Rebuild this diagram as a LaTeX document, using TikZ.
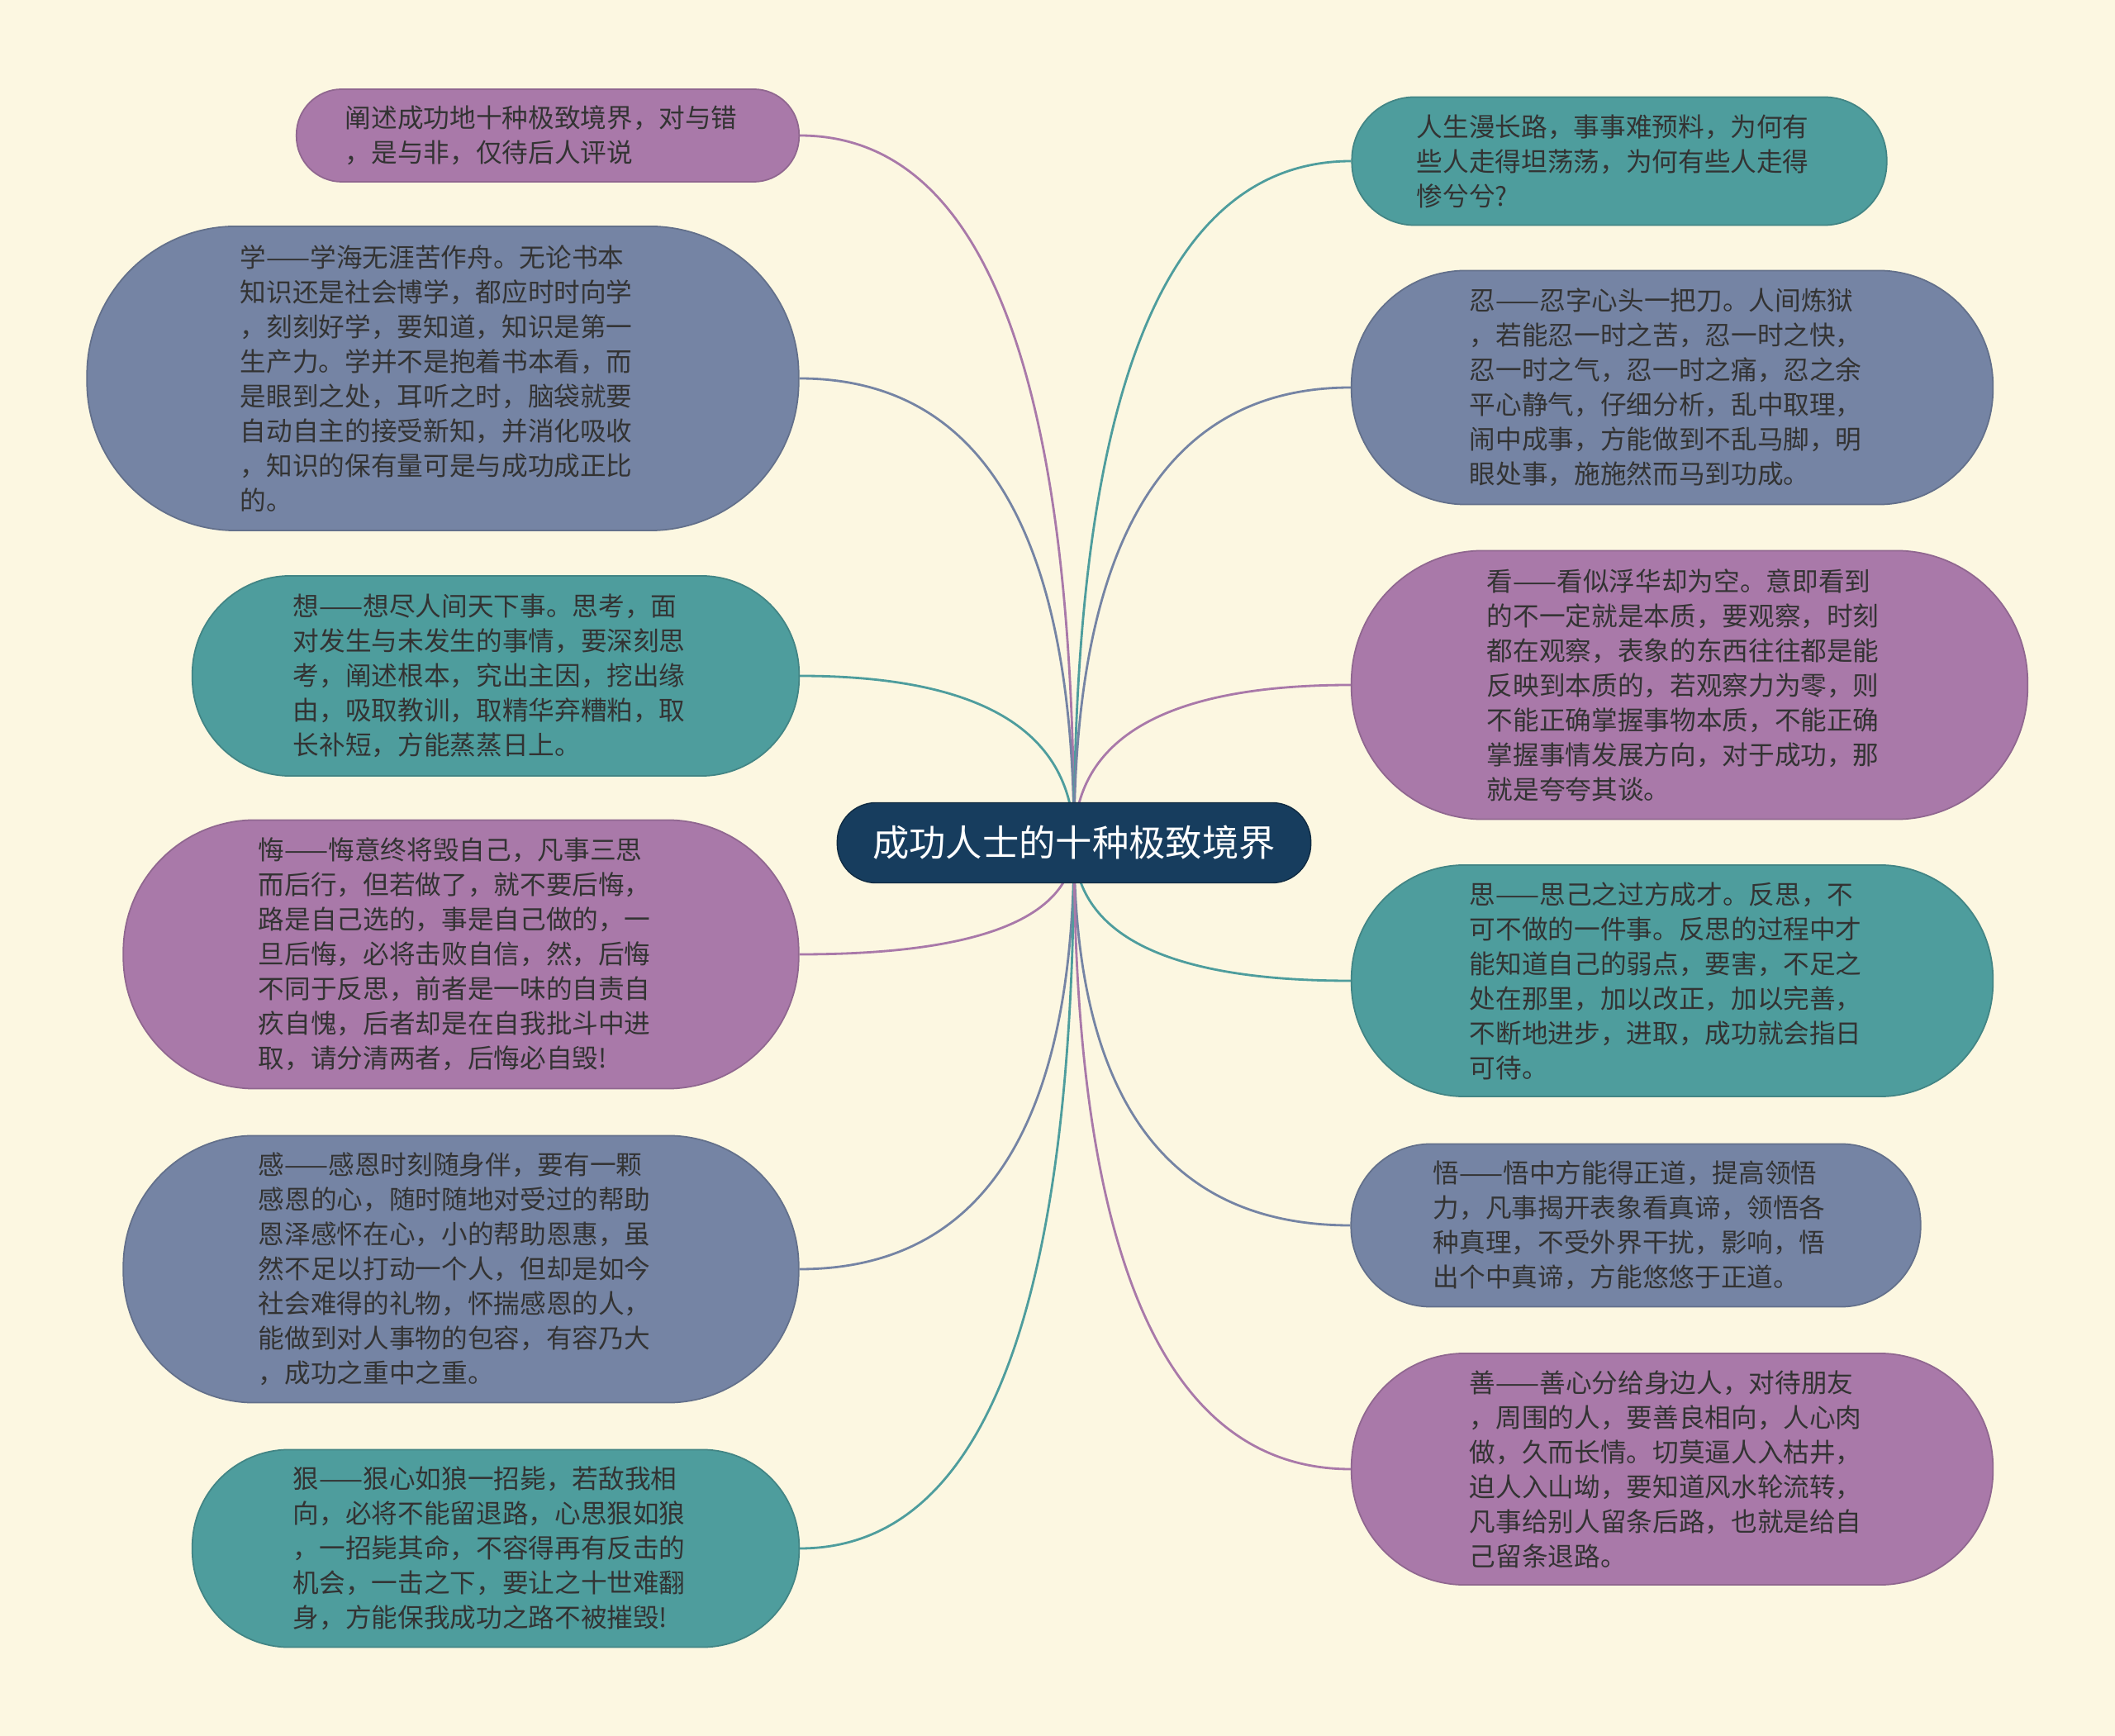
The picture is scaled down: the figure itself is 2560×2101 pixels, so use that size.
\documentclass[tikz,border=0pt]{standalone}
\usepackage{fontspec}
\setmainfont{Noto Sans CJK SC}
\usetikzlibrary{calc}
\pgfdeclarelayer{paper}
\pgfdeclarelayer{links}
\pgfsetlayers{paper,links,main}

\definecolor{paperbg}{HTML}{FCF7E1}
\definecolor{rootblue}{HTML}{173D5E}
\definecolor{leafpurple}{HTML}{A979A9}
\definecolor{leafslate}{HTML}{7584A4}
\definecolor{leafteal}{HTML}{4E9D9D}
\definecolor{textgray}{HTML}{333333}

\tikzset{
  root/.style={rectangle, rounded corners=0.47cm, fill=rootblue, draw=rootblue!70!black,
    text=white, minimum width=5.73cm, minimum height=0.97cm,
    font=\fontsize{12.6}{16}\selectfont},
  leaf/.style n args={3}{rectangle, rounded corners=#2*0.49, minimum width=#1,
    minimum height=#2, text width=4.9cm, align=left, inner sep=0pt,
    fill=#3, draw=#3!85!black, line width=0.5pt, text=textgray,
    font=\fontsize{9}{11.95}\selectfont},
  link/.style={line width=0.8pt},
}

\begin{document}
\begin{tikzpicture}[x=0.01cm, y=-0.01cm]

\begin{pgfonlayer}{paper}
\fill[paperbg] (0,0) rectangle (2560,2101);
\end{pgfonlayer}
\useasboundingbox (0,0) rectangle (2560,2101);

\node[root] (root) at (1300,1020) {成功人士的十种极致境界};

% left side
\node[leaf={6.08cm}{1.12cm}{leafpurple}] (n1) at (663,164) {阐述成功地十种极致境界，对与错\\，是与非，仅待后人评说};
\node[leaf={8.61cm}{3.68cm}{leafslate}] (n2) at (536,458) {学——学海无涯苦作舟。无论书本\\知识还是社会博学，都应时时向学\\，刻刻好学，要知道，知识是第一\\生产力。学并不是抱着书本看，而\\是眼到之处，耳听之时，脑袋就要\\自动自主的接受新知，并消化吸收\\，知识的保有量可是与成功成正比\\的。};
\node[leaf={7.34cm}{2.42cm}{leafteal}] (n3) at (600,818) {想——想尽人间天下事。思考，面\\对发生与未发生的事情，要深刻思\\考，阐述根本，究出主因，挖出缘\\由，吸取教训，取精华弃糟粕，取\\长补短，方能蒸蒸日上。};
\node[leaf={8.17cm}{3.25cm}{leafpurple}] (n4) at (558,1155) {悔——悔意终将毁自己，凡事三思\\而后行，但若做了，就不要后悔，\\路是自己选的，事是自己做的，一\\旦后悔，必将击败自信，然，后悔\\不同于反思，前者是一味的自责自\\疚自愧，后者却是在自我批斗中进\\取，请分清两者，后悔必自毁!};
\node[leaf={8.17cm}{3.23cm}{leafslate}] (n5) at (558,1536) {感——感恩时刻随身伴，要有一颗\\感恩的心，随时随地对受过的帮助\\恩泽感怀在心，小的帮助恩惠，虽\\然不足以打动一个人，但却是如今\\社会难得的礼物，怀揣感恩的人，\\能做到对人事物的包容，有容乃大\\，成功之重中之重。};
\node[leaf={7.34cm}{2.39cm}{leafteal}] (n6) at (600,1874) {狠——狠心如狼一招毙，若敌我相\\向，必将不能留退路，心思狠如狼\\，一招毙其命，不容得再有反击的\\机会，一击之下，要让之十世难翻\\身，方能保我成功之路不被摧毁!};

% right side
\node[leaf={6.47cm}{1.55cm}{leafteal}] (n7) at (1960,195) {人生漫长路，事事难预料，为何有\\些人走得坦荡荡，为何有些人走得\\惨兮兮?};
\node[leaf={7.76cm}{2.83cm}{leafslate}] (n8) at (2024,469) {忍——忍字心头一把刀。人间炼狱\\，若能忍一时之苦，忍一时之快，\\忍一时之气，忍一时之痛，忍之余\\平心静气，仔细分析，乱中取理，\\闹中成事，方能做到不乱马脚，明\\眼处事，施施然而马到功成。};
\node[leaf={8.18cm}{3.25cm}{leafpurple}] (n9) at (2045,829) {看——看似浮华却为空。意即看到\\的不一定就是本质，要观察，时刻\\都在观察，表象的东西往往都是能\\反映到本质的，若观察力为零，则\\不能正确掌握事物本质，不能正确\\掌握事情发展方向，对于成功，那\\就是夸夸其谈。};
\node[leaf={7.76cm}{2.80cm}{leafteal}] (n10) at (2024,1187) {思——思己之过方成才。反思，不\\可不做的一件事。反思的过程中才\\能知道自己的弱点，要害，不足之\\处在那里，加以改正，加以完善，\\不断地进步，进取，成功就会指日\\可待。};
\node[leaf={6.89cm}{1.97cm}{leafslate}] (n11) at (1980,1483) {悟——悟中方能得正道，提高领悟\\力，凡事揭开表象看真谛，领悟各\\种真理，不受外界干扰，影响，悟\\出个中真谛，方能悠悠于正道。};
\node[leaf={7.76cm}{2.80cm}{leafpurple}] (n12) at (2024,1778) {善——善心分给身边人，对待朋友\\，周围的人，要善良相向，人心肉\\做，久而长情。切莫逼人入枯井，\\迫人入山坳，要知道风水轮流转，\\凡事给别人留条后路，也就是给自\\己留条退路。};

% curved links from the root
\begin{pgfonlayer}{links}
\foreach \n/\c in {n1/leafpurple, n2/leafslate, n3/leafteal, n4/leafpurple, n5/leafslate, n6/leafteal}
  \draw[link, draw=\c] (root.center) .. controls ($(root.center)!2/3!(root.center |- \n.east)$) and ($(\n.east)!2/3!(root.center |- \n.east)$) .. (\n.east);
\foreach \n/\c in {n7/leafteal, n8/leafslate, n9/leafpurple, n10/leafteal, n11/leafslate, n12/leafpurple}
  \draw[link, draw=\c] (root.center) .. controls ($(root.center)!2/3!(root.center |- \n.west)$) and ($(\n.west)!2/3!(root.center |- \n.west)$) .. (\n.west);
\end{pgfonlayer}

\end{tikzpicture}
\end{document}
